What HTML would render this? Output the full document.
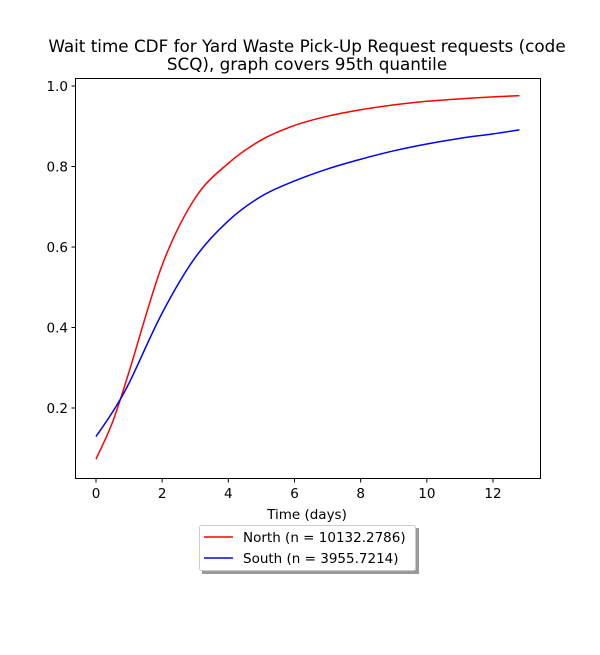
<!DOCTYPE html>
<html><head><meta charset="utf-8"><style>
body{margin:0;background:#fff;}
svg text{font-family:"DejaVu Sans","Liberation Sans",sans-serif;fill:#000;}
</style></head><body>
<svg id="chart" width="600" height="650" xmlns="http://www.w3.org/2000/svg">
<rect width="600" height="650" fill="#fff"/>
<text x="307" y="52" font-size="16.8" text-anchor="middle">Wait time CDF for Yard Waste Pick-Up Request  requests (code</text>
<text x="307" y="70" font-size="16.8" text-anchor="middle">SCQ), graph covers 95th quantile</text>
<g id="xticks"></g>
<g id="yticks"></g>
<g id="series"></g>
<rect x="75.5" y="78.5" width="465" height="400" fill="none" stroke="#000" stroke-width="1"/>
<text x="307" y="519" font-size="13.5" text-anchor="middle">Time (days)</text>
<g>
<rect x="202" y="528" width="217" height="46" fill="#999"/>
<rect x="199.5" y="525.5" width="216" height="45" rx="2" fill="#fff" stroke="#ccc"/>
<line x1="204" y1="537" x2="233" y2="537" stroke="red" stroke-width="1.5"/>
<text x="243" y="542" font-size="13.5">North (n = 10132.2786)</text>
<line x1="204" y1="558" x2="233" y2="558" stroke="blue" stroke-width="1.5"/>
<text x="243" y="563" font-size="13.5">South (n = 3955.7214)</text>
</g>
</svg>
<script>
const times=[0,0.5,1,2,3,4,5,6,7,8,9,10,11,12,12.8];
const northValues=[0.073,0.165,0.29,0.555,0.722,0.808,0.866,0.902,0.925,0.941,0.953,0.962,0.968,0.973,0.976];
const southValues=[0.129,0.190,0.262,0.436,0.574,0.665,0.726,0.764,0.794,0.818,0.839,0.856,0.870,0.881,0.891];
const xTickLabels=[0,2,4,6,8,10,12];
const yTickLabels=[0.2,0.4,0.6,0.8,1.0];
const NS="http://www.w3.org/2000/svg";
function xs(t){return 96+t*(493-96)/12;}
function ys(v){return 408-(v-0.2)*(322/0.8);}
function mk(tag,attrs,parent){const e=document.createElementNS(NS,tag);for(const k in attrs)e.setAttribute(k,attrs[k]);parent.appendChild(e);return e;}
const xg=document.getElementById('xticks'),yg=document.getElementById('yticks'),sg=document.getElementById('series');
xTickLabels.forEach(t=>{
 const l=mk('line',{x1:xs(t),x2:xs(t),y1:478.5,y2:482.5,stroke:'#000'},xg);
 
 
 const tx=mk('text',{x:xs(t),y:498,'font-size':13.5,'text-anchor':'middle'},xg);tx.textContent=t;
 
 
});
yTickLabels.forEach(v=>{
 const l=mk('line',{x1:71.5,x2:75.5,y1:ys(v),y2:ys(v),stroke:'#000'},yg);
 
 
 const tx=mk('text',{x:68,y:ys(v)+5,'font-size':13.5,'text-anchor':'end'},yg);tx.textContent=v.toFixed(1);
 
 
});
function pathFor(vals){
 const p=times.map((t,i)=>[xs(t),ys(vals[i])]);
 let d='M'+p[0][0]+','+p[0][1];
 for(let i=0;i<p.length-1;i++){
  const p0=p[Math.max(0,i-1)],p1=p[i],p2=p[i+1],p3=p[Math.min(p.length-1,i+2)];
  const c1=[p1[0]+(p2[0]-p0[0])/6,p1[1]+(p2[1]-p0[1])/6];
  const c2=[p2[0]-(p3[0]-p1[0])/6,p2[1]-(p3[1]-p1[1])/6];
  d+=' C'+c1+' '+c2+' '+p2;
 }
 return d;
}
const n=mk('path',{d:pathFor(northValues),fill:'none',stroke:'red','stroke-width':1.5},sg);


const s=mk('path',{d:pathFor(southValues),fill:'none',stroke:'blue','stroke-width':1.5},sg);


</script>
</body></html>
